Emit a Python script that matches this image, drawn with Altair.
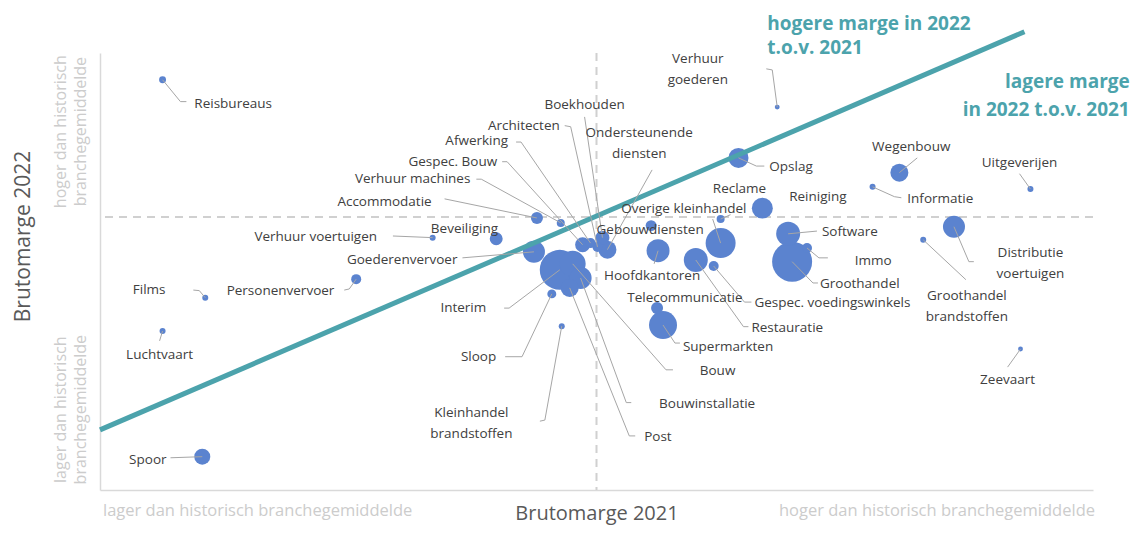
import altair as alt
import pandas as pd

# ---------------- data ----------------
sectors = [
    "Reisbureaus", "Verhuur\ngoederen", "Boekhouden", "Architecten", "Ondersteunende\ndiensten",
    "Afwerking", "Gespec. Bouw", "Opslag", "Wegenbouw", "Uitgeverijen",
    "Verhuur machines", "Reclame", "Reiniging", "Informatie", "Accommodatie",
    "Overige kleinhandel", "Gebouwdiensten", "Verhuur voertuigen", "Beveiliging", "Software",
    "Immo", "Goederenvervoer", "Hoofdkantoren", "Distributie\nvoertuigen", "Groothandel",
    "Films", "Personenvervoer", "Telecommunicatie", "Gespec. voedingswinkels", "Groothandel\nbrandstoffen",
    "Interim", "Restauratie", "Luchtvaart", "Supermarkten", "Sloop",
    "Zeevaart", "Bouw", "Bouwinstallatie", "Kleinhandel\nbrandstoffen", "Post",
    "Spoor",
]
marge_2021 = [
    -43.7, 18.2, 0.6, 0.1, 1.1,
    -0.6, -1.4, 14.3, 30.5, 43.7,
    -3.6, 12.5, 16.7, 27.8, -6.0,
    12.5, 5.5, -16.5, -10.1, 19.3,
    21.2, -6.3, 6.2, 36.0, 19.7,
    -39.4, -24.2, 6.1, 11.8, 32.9,
    -3.7, 10.0, -43.7, 6.7, -4.5,
    42.7, -2.4, -1.6, -3.5, -2.7,
    -39.7,
]
marge_2022 = [
    25.1, 20.1, -3.8, -5.5, -6.0,
    -4.8, -5.1, 10.8, 8.1, 5.1,
    -1.1, -0.4, 1.6, 5.5, -0.2,
    -4.8, -1.6, -3.8, -4.0, -3.1,
    -5.7, -6.4, -6.2, -1.8, -8.2,
    -14.8, -11.4, -16.7, -9.0, -4.2,
    -9.7, -7.9, -20.9, -19.8, -14.1,
    -24.2, -8.6, -11.2, -20.0, -13.0,
    -43.9,
]
omvang = [
    12, 6, 49, 25, 81,
    25, 56, 100, 81, 9,
    16, 16, 110, 9, 36,
    225, 30, 9, 42, 144,
    25, 121, 132, 121, 400,
    9, 25, 36, 25, 9,
    400, 144, 9, 196, 20,
    6, 169, 121, 9, 81,
    64,
]
label_x = [
    -40.5, 10.2, -1.2, -3.7, 4.3,
    -8.9, -10.0, 17.4, 31.7, 42.6,
    -12.7, 14.4, 19.4, 31.3, -16.6,
    8.8, 5.4, -22.1, -13.3, 22.7,
    26.0, -14.0, 5.6, 43.7, 22.5,
    -43.4, -26.4, 8.9, 15.9, 37.3,
    -11.1, 15.6, -44.0, 8.7, -10.1,
    41.4, 10.4, 6.3, -12.6, 4.8,
    -43.3,
]
label_y = [
    20.7, 28.9, 20.5, 16.6, 15.4,
    13.8, 10.1, 9.2, 12.8, 9.9,
    6.9, 5.1, 3.7, 3.3, 2.7,
    1.5, -2.4, -3.7, -2.2, -2.7,
    -8.1, -7.9, -10.8, -6.6, -12.3,
    -13.3, -13.5, -14.8, -15.7, -14.5,
    -16.7, -20.3, -25.3, -23.8, -25.6,
    -29.8, -28.2, -34.2, -35.9, -40.3,
    -44.5,
]
label_align = [
    "left", "center", "center", "right", "center",
    "right", "right", "left", "center", "center",
    "right", "center", "left", "left", "right",
    "center", "center", "right", "center", "left",
    "left", "right", "center", "center", "left",
    "right", "right", "center", "left", "center",
    "right", "left", "center", "left", "right",
    "center", "left", "left", "center", "left",
    "right",
]
# leader lines: bubble -> elbow -> end (None = no leader line)
elbow_x = [
    -41.9, 17.7, -1.2, -2.6, 5.6,
    -7.6, -9.0, 16.1, 32.3, 42.6,
    -11.6, 13.5, None, 30.0, -15.3,
    11.7, None, -20.5, None, 22.2,
    22.4, -13.5, 5.8, 37.5, 21.8,
    -40.0, -24.9, None, 14.9, 37.2,
    -8.8, 14.8, -44.0, 7.9, -7.5,
    41.4, 7.0, 3.0, -5.2, 3.3,
    -42.9,
]
elbow_y = [
    21.1, 26.9, 18.3, 16.5, 8.6,
    13.7, 10.1, 9.3, 10.8, 7.9,
    6.9, 0.4, None, 3.7, 3.3,
    -0.4, None, -3.5, None, -2.6,
    -7.5, -7.5, -8.6, -8.2, -12.1,
    -13.5, -13.2, None, -15.6, -11.5,
    -16.7, -20.1, -22.7, -23.1, -25.6,
    -27.5, -28.0, -34.0, -37.2, -40.1,
    -44.1,
]
end_x = [
    -41.3, 17.1, -1.2, -3.2, 5.6,
    -8.1, -9.5, 16.9, 32.3, 42.6,
    -12.1, 13.5, None, 30.7, -15.3,
    11.7, None, -20.5, None, 22.2,
    23.3, -13.5, 5.8, 38.0, 22.3,
    -40.6, -25.4, None, 15.6, 37.2,
    -9.3, 15.3, -44.0, 8.4, -9.2,
    41.4, 7.7, 3.5, -5.7, 3.9,
    -42.9,
]
end_y = [
    21.1, 27.1, 18.3, 16.7, 8.6,
    13.7, 10.1, 9.3, 10.8, 7.9,
    6.9, 0.4, None, 3.5, 3.3,
    -0.4, None, -3.5, None, -2.6,
    -7.5, -7.5, -8.6, -8.2, -12.1,
    -13.4, -13.4, None, -15.6, -11.5,
    -16.7, -20.1, -22.7, -23.1, -25.6,
    -27.5, -28.0, -34.0, -37.4, -40.1,
    -44.1,
]

# diagonal "equal margin" line (2021 vs 2022)
diag_x = [-50.0, 43.1]
diag_y = [-39.0, 33.9]

annot_text = ["hogere marge in 2022\nt.o.v. 2021", "lagere marge\nin 2022 t.o.v. 2021"]
annot_x = [17.2, 53.7]
annot_y = [35.3, 24.7]
annot_align = ["left", "right"]
annot_lineheight = [24, 28]

axis_cat_text = ["lager dan historisch  branchegemiddelde", "hoger dan historisch branchegemiddelde"]
axis_cat_x = [-49.7, 50.2]
axis_cat_y = [-53.8, -53.8]
axis_cat_align = ["left", "right"]

yaxis_cat_text = ["hoger dan historisch\nbranchegemiddelde", "lager dan historisch\nbranchegemiddelde"]
yaxis_cat_x = [-53.9, -53.9]
yaxis_cat_y = [15.6, -35.3]

# ---------------- tables ----------------
df = pd.DataFrame({
    "sector": sectors, "x": marge_2021, "y": marge_2022, "omvang": omvang,
    "lx": label_x, "ly": label_y, "align": label_align,
})

rows = []
for i, s in enumerate(sectors):
    if end_x[i] is None:
        continue
    rows.append({"sector": s, "step": 0, "x": marge_2021[i], "y": marge_2022[i]})
    rows.append({"sector": s, "step": 1, "x": elbow_x[i], "y": elbow_y[i]})
    rows.append({"sector": s, "step": 2, "x": end_x[i], "y": end_y[i]})
leaders = pd.DataFrame(rows)

diag = pd.DataFrame({"x": diag_x, "y": diag_y})
annot = pd.DataFrame({"t": annot_text, "x": annot_x, "y": annot_y, "align": annot_align})
xcat = pd.DataFrame({"t": axis_cat_text, "x": axis_cat_x, "y": axis_cat_y, "align": axis_cat_align})
ycat = pd.DataFrame({"t": yaxis_cat_text, "x": yaxis_cat_x, "y": yaxis_cat_y})

FONT = "Open Sans"
BUBBLE = "#5b83cf"
TEAL = "#4ca3ac"
LABEL = "#404040"
GREY = "#cccccc"

xs = alt.Scale(domain=[-50, 50], nice=False, zero=False)
ys = alt.Scale(domain=[-50, 30], nice=False, zero=False)

X = alt.X("x:Q", scale=xs, axis=alt.Axis(
    title="Brutomarge 2021", labels=False, ticks=False, grid=False,
    domainColor="#d9d9d9", domainWidth=1.5, titleFont=FONT, titleFontSize=20,
    titleFontWeight="normal", titleColor="#595959", titlePadding=13))
Y = alt.Y("y:Q", scale=ys, axis=alt.Axis(
    title="Brutomarge 2022", labels=False, ticks=False, grid=False,
    domainColor="#d9d9d9", domainWidth=1.5, titleFont=FONT, titleFontSize=21,
    titleFontWeight="normal", titleColor="#595959",
    titleX=-77, titleY=183, titleAngle=270, titleAlign="center", titleBaseline="middle"))

base = alt.Chart(df)

axes_layer = base.mark_point(opacity=0).encode(x=X, y=Y)

ref = pd.DataFrame({"v": [0]})
vrule = alt.Chart(ref).mark_rule(color="#d0d0d0", strokeWidth=2, strokeDash=[8, 6]).encode(
    x=alt.X("v:Q", scale=xs))
hrule = alt.Chart(ref).mark_rule(color="#d0d0d0", strokeWidth=2, strokeDash=[8, 6]).encode(
    y=alt.Y("v:Q", scale=ys))

bubbles = base.mark_circle(color=BUBBLE, opacity=1).encode(
    x=alt.X("x:Q", scale=xs), y=alt.Y("y:Q", scale=ys),
    size=alt.Size("omvang:Q", scale=alt.Scale(domain=[0, 400], range=[0, 1600]), legend=None),
    order=alt.Order("omvang:Q", sort="descending"),
)

diag_line = alt.Chart(diag).mark_line(color=TEAL, strokeWidth=5, clip=False).encode(
    x=alt.X("x:Q", scale=xs), y=alt.Y("y:Q", scale=ys))

leader_lines = alt.Chart(leaders).mark_line(color="#a6a6a6", strokeWidth=1).encode(
    x=alt.X("x:Q", scale=xs), y=alt.Y("y:Q", scale=ys),
    detail="sector:N", order="step:Q")

def label_layer(al):
    return base.transform_filter(alt.datum.align == al).mark_text(
        align=al, baseline="middle", font=FONT, fontSize=13.5, color=LABEL,
        lineBreak="\n", lineHeight=21).encode(
        x=alt.X("lx:Q", scale=xs), y=alt.Y("ly:Q", scale=ys), text="sector:N")

labels = [label_layer(a) for a in ["left", "center", "right"]]

def annot_layer(i):
    return alt.Chart(annot).transform_filter(alt.datum.align == annot_align[i]).mark_text(
        align=annot_align[i], baseline="middle", font=FONT, fontSize=19, fontWeight="bold",
        color=TEAL, lineBreak="\n", lineHeight=annot_lineheight[i]).encode(
        x=alt.X("x:Q", scale=xs), y=alt.Y("y:Q", scale=ys), text="t:N")

def xcat_layer(al):
    return alt.Chart(xcat).transform_filter(alt.datum.align == al).mark_text(
        align=al, baseline="middle", font=FONT, fontSize=16.5, color=GREY).encode(
        x=alt.X("x:Q", scale=xs), y=alt.Y("y:Q", scale=ys), text="t:N")

ycat_layer = alt.Chart(ycat).mark_text(
    align="center", baseline="middle", font=FONT, fontSize=16, color=GREY,
    angle=270, lineBreak="\n", lineHeight=20).encode(
    x=alt.X("x:Q", scale=xs), y=alt.Y("y:Q", scale=ys), text="t:N")

chart = alt.layer(
    axes_layer, vrule, hrule, bubbles, diag_line, leader_lines, *labels,
    annot_layer(0), annot_layer(1),
    xcat_layer("left"), xcat_layer("right"), ycat_layer,
).properties(
    width=993, height=437,
    autosize=alt.AutoSizeParams(type="none"),
    padding={"left": 92, "top": 45, "right": 39, "bottom": 36},
).configure_view(stroke=None)

chart.save("out.html", embed_options={"renderer": "svg", "actions": False})
